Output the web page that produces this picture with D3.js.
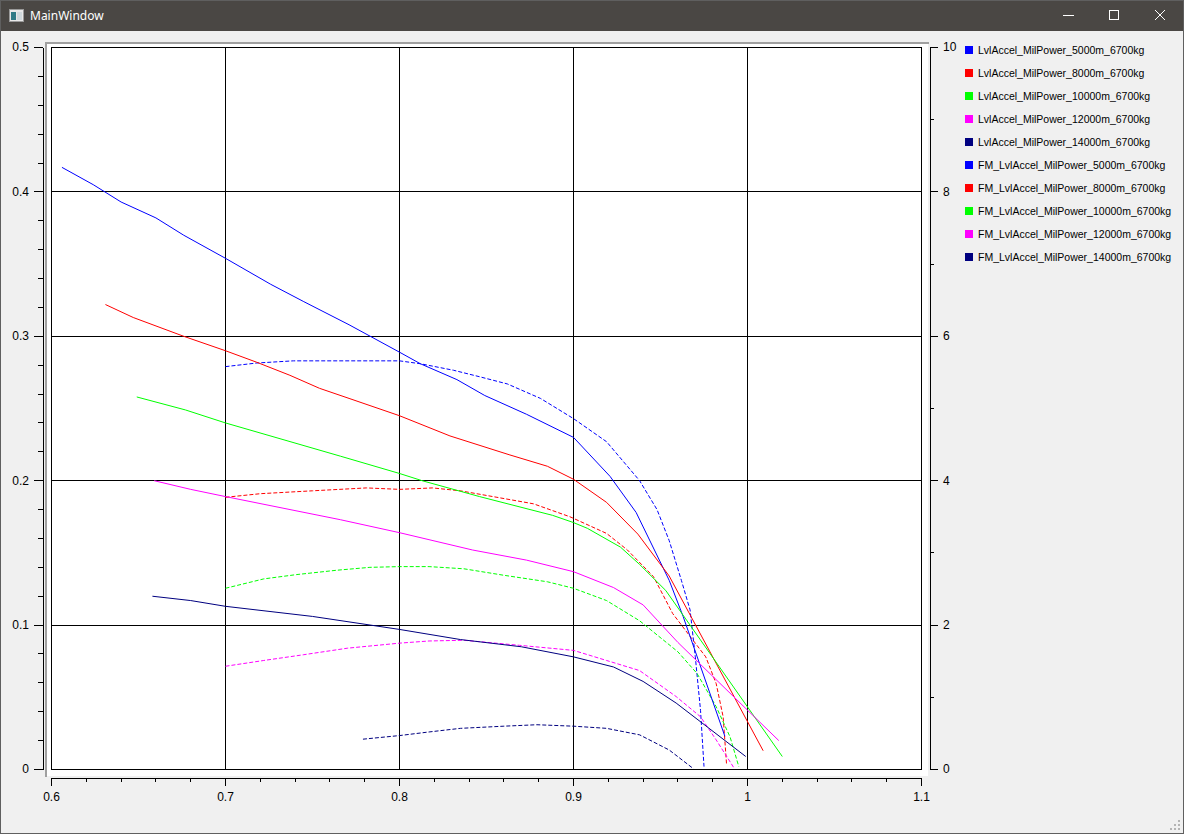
<!DOCTYPE html>
<html>
<head>
<meta charset="utf-8">
<script src="https://cdn.jsdelivr.net/npm/d3@7"></script>
<style>
  html, body { margin: 0; padding: 0; background: #f0f0f0; }
  svg { display: block; }
</style>
</head>
<body>
<svg id="chart" width="1184" height="834"></svg>
<script>
// ---------- data ----------
const seriesNames = [
  "LvlAccel_MilPower_5000m_6700kg",
  "LvlAccel_MilPower_8000m_6700kg",
  "LvlAccel_MilPower_10000m_6700kg",
  "LvlAccel_MilPower_12000m_6700kg",
  "LvlAccel_MilPower_14000m_6700kg",
  "FM_LvlAccel_MilPower_5000m_6700kg",
  "FM_LvlAccel_MilPower_8000m_6700kg",
  "FM_LvlAccel_MilPower_10000m_6700kg",
  "FM_LvlAccel_MilPower_12000m_6700kg",
  "FM_LvlAccel_MilPower_14000m_6700kg"
];
const seriesColors = ["#0000ff", "#ff0000", "#00ff00", "#ff00ff", "#000080",
                      "#0000ff", "#ff0000", "#00ff00", "#ff00ff", "#000080"];

// solid series, left axis: [mach, value]
const lvl5000 = [[0.606,0.417],[0.624,0.405],[0.640,0.393],[0.660,0.382],[0.676,0.370],[0.700,0.354],[0.726,0.336],[0.745,0.324],[0.771,0.308],[0.800,0.289],[0.812,0.281],[0.833,0.270],[0.849,0.259],[0.873,0.246],[0.900,0.230],[0.921,0.203],[0.936,0.178],[0.955,0.131],[0.963,0.106],[0.987,0.023]];
const lvl8000 = [[0.631,0.322],[0.647,0.313],[0.676,0.300],[0.700,0.290],[0.718,0.282],[0.737,0.273],[0.754,0.264],[0.771,0.257],[0.800,0.245],[0.829,0.231],[0.863,0.218],[0.885,0.210],[0.900,0.201],[0.919,0.185],[0.937,0.163],[0.955,0.134],[1.009,0.013]];
const lvl10000 = [[0.649,0.258],[0.677,0.249],[0.700,0.240],[0.766,0.217],[0.800,0.205],[0.813,0.200],[0.846,0.189],[0.888,0.176],[0.900,0.171],[0.908,0.167],[0.927,0.154],[0.938,0.142],[0.953,0.124],[1.020,0.009]];
const lvl12000 = [[0.659,0.200],[0.680,0.194],[0.700,0.189],[0.766,0.173],[0.800,0.164],[0.842,0.152],[0.873,0.145],[0.900,0.137],[0.923,0.126],[0.940,0.114],[0.960,0.088],[1.018,0.020]];
const lvl14000 = [[0.658,0.120],[0.680,0.117],[0.700,0.113],[0.750,0.106],[0.800,0.097],[0.835,0.090],[0.870,0.085],[0.900,0.078],[0.923,0.071],[0.940,0.061],[0.959,0.046],[0.999,0.009]];

// dashed series, right axis
const fm5000 = [[0.700,5.58],[0.718,5.63],[0.739,5.66],[0.771,5.66],[0.800,5.66],[0.812,5.62],[0.831,5.53],[0.846,5.44],[0.862,5.34],[0.881,5.14],[0.900,4.86],[0.919,4.54],[0.938,4.00],[0.948,3.60],[0.955,3.17],[0.962,2.62],[0.967,2.21],[0.970,1.56],[0.973,0.82],[0.975,0.04]];
const fm8000 = [[0.700,3.77],[0.720,3.82],[0.750,3.86],[0.781,3.90],[0.800,3.88],[0.819,3.90],[0.835,3.86],[0.856,3.77],[0.877,3.68],[0.898,3.50],[0.919,3.27],[0.931,3.04],[0.946,2.67],[0.957,2.16],[0.976,1.56],[0.982,1.19],[0.986,0.73],[0.988,0.06]];
const fm10000 = [[0.700,2.51],[0.722,2.64],[0.741,2.70],[0.764,2.76],[0.783,2.80],[0.800,2.81],[0.817,2.81],[0.837,2.78],[0.860,2.69],[0.885,2.60],[0.900,2.51],[0.919,2.34],[0.938,2.06],[0.960,1.63],[0.971,1.33],[0.982,0.87],[0.990,0.45],[0.995,0.04]];
const fm12000 = [[0.700,1.43],[0.722,1.51],[0.745,1.59],[0.770,1.68],[0.800,1.75],[0.817,1.78],[0.837,1.79],[0.869,1.72],[0.900,1.65],[0.919,1.51],[0.938,1.37],[0.959,1.01],[0.973,0.73],[0.982,0.41],[0.992,0.03]];
const fm14000 = [[0.779,0.42],[0.800,0.47],[0.817,0.52],[0.835,0.57],[0.860,0.60],[0.879,0.62],[0.900,0.60],[0.919,0.57],[0.938,0.48],[0.955,0.27],[0.969,0.01]];

const xTicks = [0.6, 0.7, 0.8, 0.9, 1.0, 1.1];
const xTickLabels = ["0.6", "0.7", "0.8", "0.9", "1", "1.1"];
const yLeftTicks = [0, 0.1, 0.2, 0.3, 0.4, 0.5];
const yLeftTickLabels = ["0", "0.1", "0.2", "0.3", "0.4", "0.5"];
const yRightTicks = [0, 2, 4, 6, 8, 10];
const yRightTickLabels = ["0", "2", "4", "6", "8", "10"];
const windowTitle = "MainWindow";

// ---------- drawing ----------
const svg = d3.select("#chart");
const FONT = "'Liberation Sans', Arial, sans-serif";

// window background & title bar
svg.append("rect").attr("x", 0).attr("y", 0).attr("width", 1184).attr("height", 834).attr("fill", "#f0f0f0");
svg.append("rect").attr("x", 0).attr("y", 0).attr("width", 1184).attr("height", 31).attr("fill", "#4a4744");
// icon
const icon = svg.append("g");
icon.append("rect").attr("x", 9.5).attr("y", 9.5).attr("width", 14).attr("height", 12).attr("fill", "#e8e8e8").attr("stroke", "#9a9a9a");
icon.append("rect").attr("x", 11).attr("y", 12).attr("width", 5).attr("height", 8).attr("fill", "#2f7a86");
icon.append("rect").attr("x", 17).attr("y", 12).attr("width", 5).attr("height", 8).attr("fill", "#cfd8dc");
svg.append("text").attr("x", 30).attr("y", 20).attr("fill", "#ffffff")
  .attr("font-family", "'Noto Sans', 'Open Sans', sans-serif").attr("font-size", 12).text(windowTitle);
// window controls
const ctl = svg.append("g").attr("stroke", "#ffffff").attr("stroke-width", 1).attr("fill", "none");
ctl.append("line").attr("x1", 1063).attr("x2", 1074).attr("y1", 15.5).attr("y2", 15.5);
ctl.append("rect").attr("x", 1109.5).attr("y", 10.5).attr("width", 9).attr("height", 9);
ctl.append("line").attr("x1", 1155).attr("y1", 10).attr("x2", 1165).attr("y2", 20);
ctl.append("line").attr("x1", 1165).attr("y1", 10).attr("x2", 1155).attr("y2", 20);
// window border
svg.append("rect").attr("x", 0.5).attr("y", 0.5).attr("width", 1183).attr("height", 833)
  .attr("fill", "none").attr("stroke", "#5f5f5f");

// size grip
const grip = [[1178,828],[1174,828],[1170,828],[1178,824],[1174,824],[1178,820]];
svg.append("g").selectAll("rect").data(grip).join("rect")
  .attr("x", d => d[0]).attr("y", d => d[1]).attr("width", 2).attr("height", 2).attr("fill", "#b4b4b4");

// scales
const x = d3.scaleLinear().domain([0.6, 1.1]).range([51, 921]);
const yL = d3.scaleLinear().domain([0, 0.5]).range([769, 47]);
const yR = d3.scaleLinear().domain([0, 10]).range([769, 47]);

// canvas (sunken frame)
svg.append("rect").attr("x", 45).attr("y", 42).attr("width", 883).attr("height", 734).attr("fill", "#ffffff");
svg.append("path").attr("d", "M45,776V42H928").attr("fill", "none").attr("stroke", "#a0a0a0").attr("stroke-width", 2)
  .attr("transform", "translate(1,1)");

// grid
const grid = svg.append("g").attr("stroke", "#000000").attr("stroke-width", 1).attr("shape-rendering", "crispEdges");
grid.selectAll(".gx").data(xTicks).join("line")
  .attr("x1", d => Math.round(x(d)) + 0.5).attr("x2", d => Math.round(x(d)) + 0.5)
  .attr("y1", yL.range()[1]).attr("y2", yL.range()[0] + 1);
grid.selectAll(".gy").data(yLeftTicks).join("line")
  .attr("y1", d => Math.round(yL(d)) + 0.5).attr("y2", d => Math.round(yL(d)) + 0.5)
  .attr("x1", x.range()[0]).attr("x2", x.range()[1] + 1);

// axes
function styleAxis(g) {
  g.attr("font-family", FONT).attr("font-size", 12);
  g.selectAll("text").attr("fill", "#000");
  g.selectAll("line, path").attr("stroke", "#000").attr("shape-rendering", "crispEdges");
}
const leftMinor = d3.range(0, 0.5001, 0.02).filter(v => Math.abs(v * 10 - Math.round(v * 10)) > 1e-6);
svg.append("g").attr("transform", "translate(43,0)")
  .call(d3.axisLeft(yL).tickValues(leftMinor).tickSize(5).tickSizeOuter(0).tickFormat(""))
  .call(styleAxis);
svg.append("g").attr("transform", "translate(43,0)")
  .call(d3.axisLeft(yL).tickValues(yLeftTicks).tickSize(9).tickSizeOuter(0).tickPadding(5)
    .tickFormat((d, i) => yLeftTickLabels[i]))
  .call(styleAxis);

const bottomMinor = d3.range(0.6, 1.1001, 0.02).filter(v => Math.abs(v * 10 - Math.round(v * 10)) > 1e-6);
svg.append("g").attr("transform", "translate(0,778)")
  .call(d3.axisBottom(x).tickValues(bottomMinor).tickSize(4).tickSizeOuter(0).tickFormat(""))
  .call(styleAxis);
svg.append("g").attr("transform", "translate(0,778)")
  .call(d3.axisBottom(x).tickValues(xTicks).tickSize(8).tickSizeOuter(0).tickPadding(6)
    .tickFormat((d, i) => xTickLabels[i]))
  .call(styleAxis);

const rightMinor = [1, 3, 5, 7, 9];
svg.append("g").attr("transform", "translate(930,0)")
  .call(d3.axisRight(yR).tickValues(rightMinor).tickSize(4).tickSizeOuter(0).tickFormat(""))
  .call(styleAxis);
svg.append("g").attr("transform", "translate(930,0)")
  .call(d3.axisRight(yR).tickValues(yRightTicks).tickSize(8).tickSizeOuter(0).tickPadding(5)
    .tickFormat((d, i) => yRightTickLabels[i]))
  .call(styleAxis);

// curves
const solidSeries = [lvl5000, lvl8000, lvl10000, lvl12000, lvl14000];
const dashedSeries = [fm5000, fm8000, fm10000, fm12000, fm14000];
const lineL = d3.line().x(d => x(d[0]) + 0.5).y(d => yL(d[1]) + 0.5);
const lineR = d3.line().x(d => x(d[0]) + 0.5).y(d => yR(d[1]) + 0.5);

const curves = svg.append("g").attr("fill", "none").attr("stroke-width", 1);
dashedSeries.forEach((s, i) => {
  curves.append("path").attr("d", lineR(s)).attr("stroke", seriesColors[i + 5])
    .attr("stroke-dasharray", "4,2");
});
solidSeries.forEach((s, i) => {
  curves.append("path").attr("d", lineL(s)).attr("stroke", seriesColors[i]);
});

// legend
const legend = svg.append("g").attr("font-family", FONT).attr("font-size", 10.5);
const items = legend.selectAll("g").data(seriesNames).join("g")
  .attr("transform", (d, i) => `translate(965, ${50 + i * 23})`);
items.append("rect").attr("x", 0).attr("y", -4).attr("width", 8).attr("height", 8)
  .attr("fill", (d, i) => seriesColors[i]);
items.append("text").attr("x", 13).attr("y", 0).attr("dy", "0.35em").attr("fill", "#000").text(d => d);
</script>
</body>
</html>
